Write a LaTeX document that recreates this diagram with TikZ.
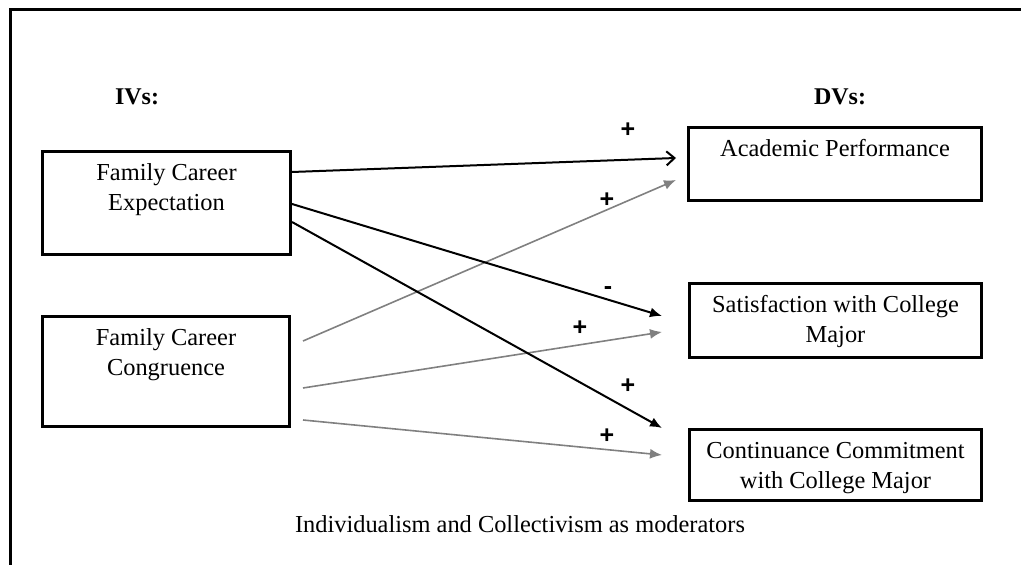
\documentclass[tikz,border=0pt]{standalone}
\usepackage{fontspec}
\setmainfont{Liberation Serif}
\newfontfamily\signfont{Liberation Sans}
\usetikzlibrary{calc,arrows.meta}

\tikzset{
  varbox/.style={draw, line width=1.5pt, anchor=north west, align=center,
    inner xsep=0pt, inner ysep=3pt, text height=11.5pt},
  twoline/.style={text height=26.5pt},
  heading/.style={font=\bfseries\fontsize{12}{15}\selectfont},
  sign/.style={font=\signfont\bfseries\fontsize{12.5}{14}\selectfont},
  openpath/.style={line width=1pt, -{Straight Barb[length=4pt,width=7pt]}},
  blackpath/.style={line width=1pt, -{Latex[length=6pt,width=5pt]}},
  graypath/.style={black!50, line width=0.8pt, -{Latex[length=6pt,width=5pt]}},
}

\begin{document}
\begin{tikzpicture}[x=0.5pt,y=-0.5pt,font=\fontsize{12.2}{15}\selectfont]
  \useasboundingbox (0,0) rectangle (1021,565);
  % frame
  \draw[line width=1.8pt] (10.5,565) -- (10.5,9.5) -- (1021,9.5);

  % headings
  \node[heading] (ivs) at (137,97) {IVs:};
  \node[heading] (dvs) at (840,97) {DVs:};

  % independent variables
  \node[varbox, twoline, minimum width=124pt, text depth=19pt] (fce) at (41,150) {Family Career\\Expectation};
  \node[varbox, twoline, minimum width=123.5pt, text depth=22.5pt] (fcc) at (41,315) {Family Career\\Congruence};

  % dependent variables
  \node[varbox, minimum width=146.5pt, text depth=19pt] (ap) at (687,126) {Academic Performance};
  \node[varbox, twoline, minimum width=146pt, text depth=4.5pt] (scm) at (688,282) {Satisfaction with College\\Major};
  \node[varbox, twoline, minimum width=146pt, text depth=3pt] (ccm) at (688,428) {Continuance Commitment\\with College Major};

  % paths
  \draw[openpath] ($(fce.north east)+(0,22)$) -- ($(ap.north west)+(-11,32)$);
  \draw[graypath] ($(fcc.north east)+(12,26)$) -- ($(ap.north west)+(-11,54)$);
  \draw[blackpath] ($(fce.north east)+(0,54)$) -- ($(scm.north west)+(-26,34)$);
  \draw[graypath] ($(fcc.north east)+(12,73)$) -- ($(scm.north west)+(-26,50)$);
  \draw[blackpath] ($(fce.north east)+(0,72)$) -- ($(ccm.north west)+(-26,0)$);
  \draw[graypath] ($(fcc.north east)+(12,105)$) -- ($(ccm.north west)+(-26,27)$);

  % signs
  \node[sign] (s1) at (628,130) {+};
  \node[sign] (s2) at (607,200) {+};
  \node[sign] (s3) at (608,291) {-};
  \node[sign] (s4) at (580,328) {+};
  \node[sign] (s5) at (628,386) {+};
  \node[sign] (s6) at (607,436) {+};

  \node (mod) at (520,524) {Individualism and Collectivism as moderators};
\end{tikzpicture}
\end{document}
